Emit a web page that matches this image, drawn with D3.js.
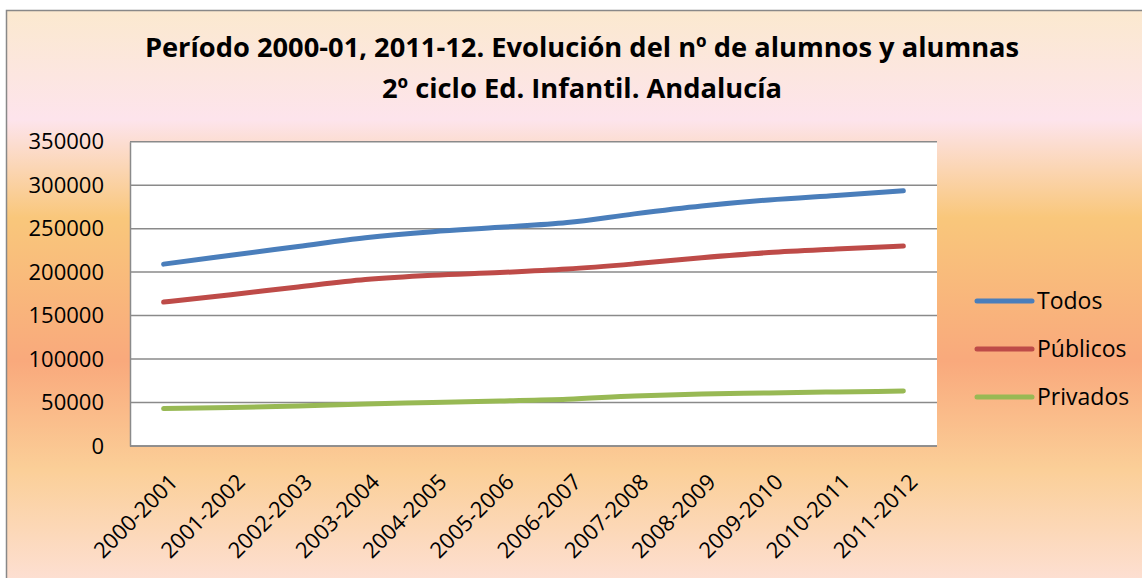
<!DOCTYPE html>
<html>
<head>
<meta charset="utf-8">
<script src="https://cdn.jsdelivr.net/npm/d3@7"></script>
<style>
  body { margin: 0; background: #fff; }
  text { font-family: "Open Sans", "Noto Sans", sans-serif; fill: #000; }
</style>
</head>
<body>
<div id="chart"></div>
<script>
// chart data
var categories = ["2000-2001", "2001-2002", "2002-2003", "2003-2004", "2004-2005", "2005-2006",
  "2006-2007", "2007-2008", "2008-2009", "2009-2010", "2010-2011", "2011-2012"];
var todos = [209200, 219500, 229500, 239500, 246500, 251500, 257000, 267000, 276000, 283000, 288200, 293500];
var publicos = [165500, 174000, 183000, 191500, 196500, 199500, 203500, 209500, 216500, 222500, 226500, 230000];
var privados = [43000, 44200, 46000, 48300, 50000, 51800, 53800, 57500, 59800, 61000, 62200, 63200];
var seriesNames = ["Todos", "Públicos", "Privados"];
var yTicks = [0, 50000, 100000, 150000, 200000, 250000, 300000, 350000];
var titleLines = ["Período 2000-01, 2011-12. Evolución del nº de alumnos y alumnas",
  "2º ciclo Ed. Infantil. Andalucía"];

var svgWidth = 1142;
var svgHeight = 578;
var colors = ["#4a7ebb", "#be4b48", "#98b954"];

var plot = { left: 130, right: 937, top: 141.7, bottom: 446 };

var svg = d3.select("#chart")
  .append("svg")
  .attr("width", svgWidth)
  .attr("height", svgHeight);

// background gradient of the chart area
var grad = svg.append("defs").append("linearGradient")
  .attr("id", "bg")
  .attr("x1", 0).attr("y1", 0).attr("x2", 0).attr("y2", 1);
[["0%", "#fbe9cf"], ["19%", "#fde4ec"], ["36%", "#f9c77b"], ["61%", "#f9a97c"],
 ["80%", "#fbcf98"], ["100%", "#fde0d5"]].forEach(function(s) {
  grad.append("stop").attr("offset", s[0]).attr("stop-color", s[1]);
});

svg.append("rect")
  .attr("x", 6.5).attr("y", 10.5)
  .attr("width", 1150).attr("height", 575)
  .attr("fill", "url(#bg)")
  .attr("stroke", "#888")
  .attr("stroke-width", 1.5);

// title, fitted to the width seen in the picture
var titleWidths = [875, 395];
titleLines.forEach(function(t, i) {
  var el = svg.append("text")
    .attr("x", 582)
    .attr("y", 57 + i * 41)
    .attr("text-anchor", "middle")
    .attr("font-weight", "bold")
    .attr("font-size", "24px")
    .text(t);
  var w = el.node().getComputedTextLength();
  if (i === 0) {
    var fs = 24 * titleWidths[0] / w;
    svg.selectAll(".titleFs").remove();
    el.attr("font-size", fs + "px");
    titleLines.fs = fs;
  } else {
    el.attr("font-size", titleLines.fs + "px");
  }
});

// plot area
svg.append("rect")
  .attr("x", plot.left).attr("y", plot.top)
  .attr("width", plot.right - plot.left).attr("height", plot.bottom - plot.top)
  .attr("fill", "#fff");

var xScale = d3.scalePoint()
  .domain(categories)
  .range([plot.left, plot.right])
  .padding(0.5);

var yScale = d3.scaleLinear()
  .domain([0, 350000])
  .range([plot.bottom, plot.top]);

// gridlines
svg.append("g")
  .selectAll("line")
  .data(yTicks)
  .enter()
  .append("line")
  .attr("x1", plot.left).attr("x2", plot.right)
  .attr("y1", d => yScale(d)).attr("y2", d => yScale(d))
  .attr("stroke", "#8a8a8a")
  .attr("stroke-width", 1.5);

// y axis
var leftAxis = d3.axisLeft(yScale)
  .tickValues(yTicks)
  .tickFormat(d3.format("d"))
  .tickSize(0)
  .tickPadding(26);

var yAxisG = svg.append("g")
  .attr("transform", `translate(${plot.left}, 0)`)
  .call(leftAxis);
yAxisG.select(".domain").attr("stroke", "#8a8a8a").attr("stroke-width", 1.5);
yAxisG.selectAll("text")
  .attr("font-size", "22px")
  .attr("font-family", "'Open Sans', sans-serif")
  .attr("fill", "#000");

// x axis
var bottomAxis = d3.axisBottom(xScale).tickSize(0).tickFormat("");
var xAxisG = svg.append("g")
  .attr("transform", `translate(0, ${plot.bottom})`)
  .call(bottomAxis);
xAxisG.select(".domain")
  .attr("d", `M${plot.left},0H${plot.right}`)
  .attr("stroke", "#8a8a8a").attr("stroke-width", 1.5);

svg.append("g")
  .selectAll("text")
  .data(categories)
  .enter()
  .append("text")
  .attr("transform", d => `translate(${xScale(d) + 10}, 478) rotate(-45)`)
  .attr("text-anchor", "end")
  .attr("dy", "0.35em")
  .attr("font-size", "22px")
  .text(d => d);

// lines
var allSeries = [todos, publicos, privados];
var line = d3.line()
  .x((d, i) => xScale(categories[i]))
  .y(d => yScale(d))
  .curve(d3.curveMonotoneX);

svg.append("g")
  .selectAll("path")
  .data(allSeries)
  .enter()
  .append("path")
  .attr("d", line)
  .attr("fill", "none")
  .attr("stroke", (d, i) => colors[i])
  .attr("stroke-width", 5)
  .attr("stroke-linecap", "round")
  .attr("stroke-linejoin", "round");

// legend
var legend = svg.append("g")
  .selectAll("g")
  .data(seriesNames)
  .enter()
  .append("g")
  .attr("transform", (d, i) => `translate(977, ${301 + i * 48})`);

legend.append("line")
  .attr("x1", 0).attr("x2", 55)
  .attr("stroke", (d, i) => colors[i])
  .attr("stroke-width", 5)
  .attr("stroke-linecap", "round");

legend.append("text")
  .attr("x", 60)
  .attr("dy", "0.35em")
  .attr("font-size", "23px")
  .text(d => d);
</script>
</body>
</html>
